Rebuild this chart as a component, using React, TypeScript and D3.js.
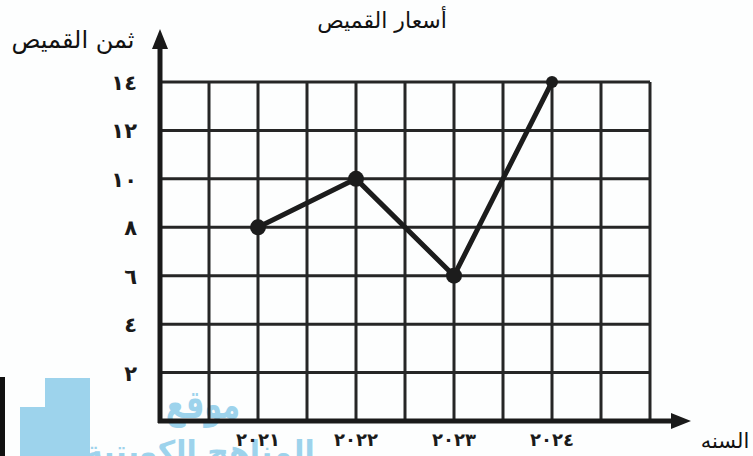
import * as d3 from 'd3';
import { useEffect, useRef } from 'react';

const years = [2021, 2022, 2023, 2024];
const yearLabels = ['٢٠٢١', '٢٠٢٢', '٢٠٢٣', '٢٠٢٤'];
const prices = [8, 10, 6, 14];
const yTicks = [2, 4, 6, 8, 10, 12, 14];
const yTickLabels = ['٢', '٤', '٦', '٨', '١٠', '١٢', '١٤'];

const title = 'أسعار القميص';
const yTitle = 'ثمن القميص';
const xTitle = 'السنه';

const W = 753;
const H = 456;
const FONT = '"DejaVu Sans", "Noto Sans", sans-serif';

export default function App() {
    const ref = useRef<SVGSVGElement>(null);

    useEffect(() => {
        const svg = d3.select(ref.current);
        svg.selectAll('*').remove();

        const x = d3.scaleLinear().domain([2020, 2025]).range([160, 650]);
        const y = d3.scaleLinear().domain([0, 14]).range([421, 82]);

        svg.append('rect').attr('width', W).attr('height', H).attr('fill', '#fdfefe');

        // watermark (behind the grid)
        const wm = svg.append('g').attr('fill', '#9dd3ec');
        wm.append('rect').attr('x', 45).attr('y', 378).attr('width', 45).attr('height', 78);
        wm.append('rect').attr('x', 20).attr('y', 407).attr('width', 25).attr('height', 49);
        wm.append('text').attr('x', 203).attr('y', 418).attr('text-anchor', 'middle')
            .attr('font-family', FONT).attr('font-weight', 'bold').attr('font-size', 32)
            .attr('transform', 'translate(203,418) scale(0.9,1.25) translate(-203,-418)')
            .text('موقع');
        wm.append('text').attr('x', 200).attr('y', 462).attr('text-anchor', 'middle')
            .attr('font-family', FONT).attr('font-weight', 'bold').attr('font-size', 30)
            .text('المناهج الكويتية');
        svg.append('rect').attr('x', 0).attr('y', 377).attr('width', 5).attr('height', 79).attr('fill', '#111');

        // grid
        const grid = svg.append('g').attr('stroke', '#262626').attr('stroke-width', 3);
        d3.range(2020.5, 2025.01, 0.5).forEach(v => {
            grid.append('line')
                .attr('x1', x(v)).attr('x2', x(v))
                .attr('y1', y(14)).attr('y2', y(0));
        });
        yTicks.forEach(v => {
            grid.append('line')
                .attr('x1', x(2020)).attr('x2', x(2025))
                .attr('y1', y(v)).attr('y2', y(v));
        });

        // axes
        const axes = svg.append('g').attr('stroke', '#1a1a1a').attr('stroke-width', 5);
        axes.append('line').attr('x1', x(2020)).attr('x2', x(2020)).attr('y1', y(0) + 2).attr('y2', 45);
        axes.append('line').attr('x1', x(2020) - 2).attr('x2', 675).attr('y1', y(0)).attr('y2', y(0));
        svg.append('path').attr('fill', '#1a1a1a')
            .attr('d', `M${x(2020)},29 L${x(2020) - 8},49 L${x(2020) + 8},49 Z`);
        svg.append('path').attr('fill', '#1a1a1a')
            .attr('d', `M691,${y(0)} L671,${y(0) - 8} L671,${y(0) + 8} Z`);

        // data line
        const line = d3.line<number>()
            .x((_, i) => x(years[i]))
            .y(d => y(d));
        svg.append('path').datum(prices)
            .attr('fill', 'none').attr('stroke', '#1c1c1c').attr('stroke-width', 5)
            .attr('stroke-linejoin', 'round').attr('d', line);
        svg.selectAll('circle.pt').data(prices).enter().append('circle')
            .attr('cx', (_, i) => x(years[i])).attr('cy', d => y(d))
            .attr('r', (_, i) => (i === 3 ? 6 : 8)).attr('fill', '#1c1c1c');

        // tick labels
        svg.selectAll('text.yt').data(yTicks).enter().append('text')
            .attr('x', 137).attr('y', d => y(d) + 8)
            .attr('text-anchor', 'end').attr('font-family', FONT).attr('font-weight', 'bold')
            .attr('font-size', 21).attr('fill', '#1a1a1a')
            .text((_, i) => yTickLabels[i]);
        svg.selectAll('text.xt').data(years).enter().append('text')
            .attr('x', d => x(d)).attr('y', 446)
            .attr('text-anchor', 'middle').attr('font-family', FONT).attr('font-weight', 'bold')
            .attr('font-size', 18).attr('fill', '#1a1a1a')
            .text((_, i) => yearLabels[i]);

        // titles
        svg.append('text').attr('x', 382).attr('y', 28).attr('text-anchor', 'middle')
            .attr('font-family', FONT).attr('font-size', 22).attr('fill', '#111').text(title);
        svg.append('text').attr('x', 73).attr('y', 48).attr('text-anchor', 'middle')
            .attr('font-family', FONT).attr('font-size', 24).attr('fill', '#111').text(yTitle);
        svg.append('text').attr('x', 725).attr('y', 448).attr('text-anchor', 'middle')
            .attr('font-family', FONT).attr('font-size', 21).attr('fill', '#111').text(xTitle);
    }, []);

    return <svg ref={ref} width={W} height={H}
        style={{ display: 'block', position: 'absolute', left: 0, top: 0 }} />;
}
